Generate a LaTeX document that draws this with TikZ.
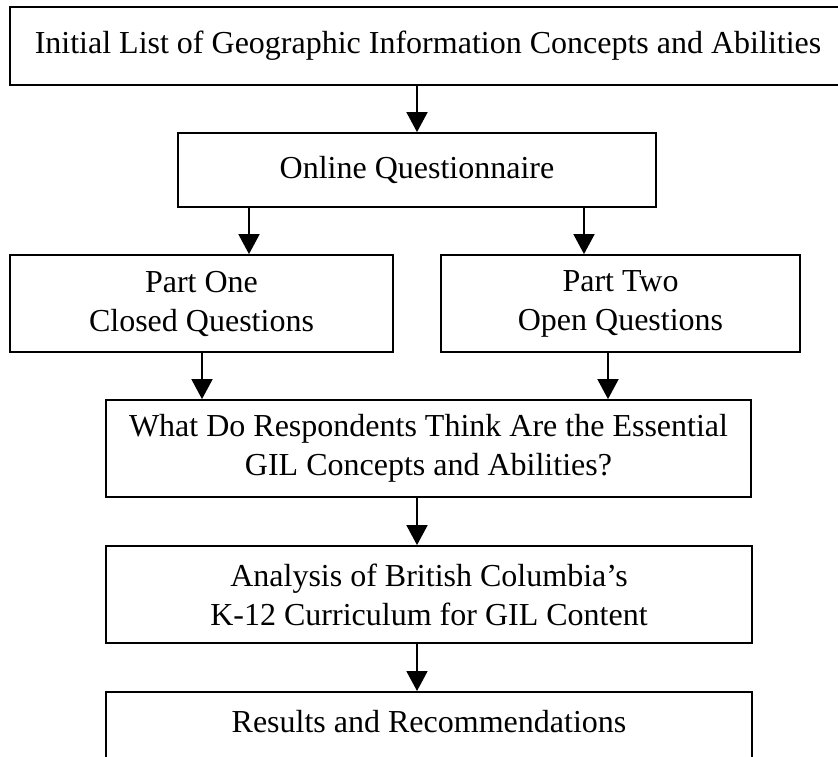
\documentclass[tikz,border=0pt]{standalone}
\usepackage{fontspec}
\setmainfont{Liberation Serif}
\usetikzlibrary{arrows.meta}

\begin{document}
\begin{tikzpicture}[x=1bp,y=-1bp,
    box/.style={draw,line width=1.8bp,inner sep=0pt,align=center,
        font=\fontsize{32bp}{39bp}\selectfont},
    arr/.style={line width=1.8bp,-{Triangle[width=21bp,length=20bp]}}]
    \useasboundingbox (0,0) rectangle (838,757);
    \node [box,minimum width=836bp,minimum height=78bp] (list) at (428,46) {Initial List of Geographic Information Concepts and Abilities};
    \node [box,minimum width=478bp,minimum height=74bp] (quest) at (417,170) {Online Questionnaire};
    \node [box,minimum width=383bp,minimum height=97bp] (partone) at (201.5,303.5) {Part One\\Closed Questions};
    \node [box,minimum width=359bp,minimum height=97bp] (parttwo) at (620.5,303.5) {Part Two\\Open Questions};
    \node [box,minimum width=645bp,minimum height=97bp] (essential) at (428.5,448.5) {What Do Respondents Think Are the Essential\\GIL Concepts and Abilities?};
    \node [box,minimum width=646bp,minimum height=97bp] (analysis) at (429,594.5) {Analysis of British Columbia’s\\K-12 Curriculum for GIL Content};
    \node [box,minimum width=646bp,text height=41bp,text depth=60bp,anchor=north] (results) at (429,691) {Results and Recommendations};
    % columns of the arrows
    \coordinate (mid) at (417,0);
    \coordinate (qleft) at (249,0);
    \coordinate (qright) at (584,0);
    \coordinate (pleft) at (202,0);
    \coordinate (pright) at (608,0);
    \draw [arr] (list.south -| mid) -- (quest.north -| mid);
    \draw [arr] (quest.south -| qleft) -- (partone.north -| qleft);
    \draw [arr] (quest.south -| qright) -- (parttwo.north -| qright);
    \draw [arr] (partone.south -| pleft) -- (essential.north -| pleft);
    \draw [arr] (parttwo.south -| pright) -- (essential.north -| pright);
    \draw [arr] (essential.south -| mid) -- (analysis.north -| mid);
    \draw [arr] (analysis.south -| mid) -- (results.north -| mid);
\end{tikzpicture}
\end{document}
